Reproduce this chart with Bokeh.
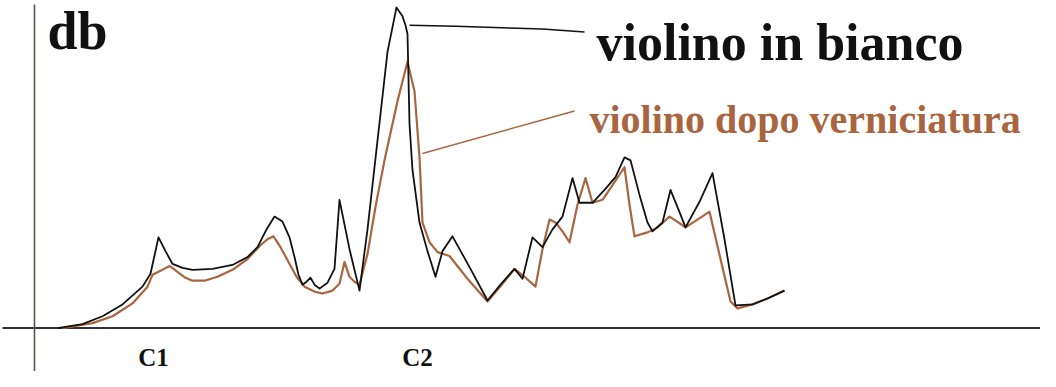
from bokeh.plotting import figure
from bokeh.models import Range1d, ColumnDataSource
from bokeh.core.properties import value
from bokeh.embed import file_html
from bokeh.resources import INLINE

# --- data (x: frequency position, y: level above baseline) ---
black_x = [65, 90, 110, 130, 150, 158, 166, 173, 180, 190, 200, 220, 240, 255, 265, 274, 282, 290, 297,
           302, 306, 310, 314, 318, 322, 327, 335, 342, 347, 357, 367, 375, 385, 395, 404, 410, 413, 415,
           417, 420, 427, 435, 443, 450, 460, 478, 495, 508, 522, 530, 540, 550, 560, 570, 580, 587, 600,
           612, 623, 632, 638, 647, 655, 660, 670, 678, 688, 693, 707, 720, 732, 743, 760, 775, 792]
black_y_img = [340, 336, 328, 316, 298, 285, 248, 262, 275, 279, 281, 280, 276, 268, 258, 240, 227, 232, 248,
               268, 286, 296, 293, 289, 296, 300, 294, 280, 210, 260, 302, 240, 150, 60, 15, 24, 33, 42,
               133, 180, 233, 262, 288, 262, 247, 280, 312, 296, 280, 290, 248, 258, 240, 227, 188, 213, 213,
               200, 187, 167, 170, 205, 233, 242, 233, 200, 225, 238, 212, 183, 250, 317, 316, 310, 302]
orange_x = [70, 100, 120, 140, 155, 160, 168, 177, 185, 193, 200, 212, 225, 240, 255, 268, 275, 281, 288,
            296, 304, 312, 322, 330, 340, 347, 352, 357, 362, 367, 375, 383, 392, 400, 405, 410, 415, 422,
            427, 430, 437, 445, 457, 475, 495, 510, 522, 532, 543, 550, 557, 563, 570, 577, 585, 593, 600,
            610, 620, 632, 637, 642, 655, 665, 677, 686, 693, 705, 717, 728, 738, 745, 760, 775, 792]
orange_y_img = [340, 335, 328, 315, 298, 286, 282, 277, 283, 289, 292, 292, 288, 281, 270, 256, 250, 247, 258,
                273, 288, 298, 303, 305, 302, 295, 273, 288, 293, 296, 265, 217, 170, 133, 110, 90, 70, 100,
                167, 233, 253, 263, 267, 290, 313, 295, 280, 288, 298, 260, 230, 233, 242, 253, 215, 188, 213,
                210, 195, 177, 215, 247, 243, 238, 227, 233, 238, 230, 222, 270, 313, 320, 316, 310, 302]
black_y = [340 - v for v in black_y_img]
orange_y = [340 - v for v in orange_y_img]

tick_labels = ["C1", "C2"]
tick_pos = [161, 425]

series_labels = ["violino in bianco", "violino dopo verniciatura"]
axis_label = "db"

BLACK = "#111111"
BROWN = "#a9653f"
FONT = value("Liberation Serif")

p = figure(width=1040, height=371, output_backend="svg", toolbar_location=None,
           x_range=Range1d(8, 1048), y_range=Range1d(340 - 384, 340 - 8),
           min_border=0, min_border_left=0, min_border_right=0,
           min_border_top=0, min_border_bottom=0)
p.axis.visible = False
p.grid.visible = False
p.outline_line_color = None
p.background_fill_color = "white"
p.border_fill_color = "white"

# axes drawn as plain lines crossing at the origin
p.segment(x0=[10], y0=[0], x1=[1056], y1=[0], line_color="#333333", line_width=2)
p.segment(x0=[42], y0=[-60], x1=[42], y1=[340 - 12], line_color="#55554a", line_width=1.6)

# series
p.line(orange_x, orange_y, line_color=BROWN, line_width=2.2, line_join="round")
p.line(black_x, black_y, line_color=BLACK, line_width=1.8, line_join="round")

# leader lines
p.line([417, 463, 550, 592], [340 - 33, 340 - 34, 340 - 37, 340 - 40], line_color=BLACK, line_width=1.5)
p.line([430, 582], [340 - 163, 340 - 120], line_color=BROWN, line_width=1.5)

# labels
p.text(x=[55], y=[340 - 39], text=[axis_label], text_font=FONT, text_font_style="bold",
       text_font_size="54px", text_color=BLACK, text_baseline="alphabetic", text_align="left")
p.text(x=[604], y=[340 - 51], text=[series_labels[0]], text_font=FONT, text_font_style="bold",
       text_font_size="52px", text_color=BLACK, text_baseline="alphabetic", text_align="left")
p.text(x=[597], y=[340 - 129], text=[series_labels[1]], text_font=FONT, text_font_style="bold",
       text_font_size="40px", text_color=BROWN, text_baseline="alphabetic", text_align="left")

tick_src = ColumnDataSource(dict(x=tick_pos, y=[340 - 370] * len(tick_pos), t=tick_labels))
p.text(x="x", y="y", text="t", source=tick_src, text_font=FONT, text_font_style="bold",
       text_font_size="25px", text_color=BLACK, text_baseline="alphabetic", text_align="center")

open("out.html", "w").write(file_html(p, INLINE))
